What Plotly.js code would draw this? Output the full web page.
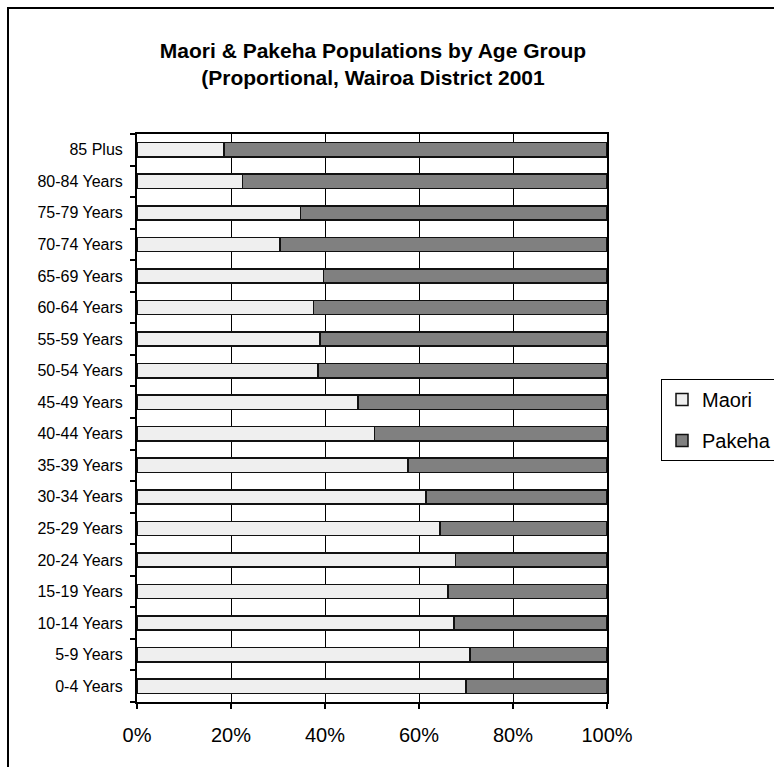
<!DOCTYPE html>
<html>
<head>
<meta charset="utf-8">
<script src="https://cdn.plot.ly/plotly-3.0.1.min.js"></script>
<style>html,body{margin:0;padding:0;background:#fff;}#chart{width:774px;height:767px;}</style>
</head>
<body>
<div id="chart"></div>
<script>
const categories = ["0-4 Years","5-9 Years","10-14 Years","15-19 Years","20-24 Years","25-29 Years","30-34 Years","35-39 Years","40-44 Years","45-49 Years","50-54 Years","55-59 Years","60-64 Years","65-69 Years","70-74 Years","75-79 Years","80-84 Years","85 Plus"];
const maori  = [70.0, 70.9, 67.4, 66.2, 67.8, 64.5, 61.5, 57.7, 50.5, 47.0, 38.5, 38.9, 37.6, 39.7, 30.4, 34.8, 22.4, 18.5];
const pakeha = [30.0, 29.1, 32.6, 33.8, 32.2, 35.5, 38.5, 42.3, 49.5, 53.0, 61.5, 61.1, 62.4, 60.3, 69.6, 65.2, 77.6, 81.5];
const xTickVals = [0, 20, 40, 60, 80, 100];
const xTickText = ["0%", "20%", "40%", "60%", "80%", "100%"];
const titleText = "<b>Maori & Pakeha Populations by Age Group<br>(Proportional, Wairoa District 2001</b>";

const FONT = "Liberation Sans, Arial, sans-serif";
const L = 137, R = 607, T = 134, B = 702, W = 774, H = 767;
const pw = R - L, ph = B - T;
const px = v => (v - L) / pw;
const py = v => (B - v) / ph;

const traces = [
  {type: "bar", orientation: "h", name: "Maori", y: categories, x: maori,
   legendgroup: "a",
   marker: {color: "#efefef", line: {color: "#111", width: 1.5}}, hoverinfo: "skip"},
  {type: "bar", orientation: "h", name: "Pakeha", y: categories, x: pakeha,
   legendgroup: "b",
   marker: {color: "#808080", line: {color: "#111", width: 1.5}}, hoverinfo: "skip"}
];

const layout = {
  width: W, height: H,
  margin: {l: L, r: W - R, t: T, b: H - B, pad: 0, autoexpand: false},
  paper_bgcolor: "#fff", plot_bgcolor: "#fff",
  barmode: "stack", bargap: 0.55,
  font: {family: FONT, color: "#000"},
  title: {text: titleText, font: {family: FONT, size: 21, color: "#000"},
          x: 373 / W, xanchor: "center", xref: "container",
          y: 1 - 58 / H, yanchor: "middle", yref: "container"},
  xaxis: {range: [0, 100], tickvals: xTickVals, ticktext: xTickText,
          showgrid: true, gridcolor: "#000", gridwidth: 1,
          showline: true, linecolor: "#000", linewidth: 2, mirror: true,
          ticks: "outside", ticklen: 5, tickwidth: 2, tickcolor: "#000",
          tickfont: {family: FONT, size: 20, color: "#000"},
          ticklabelstandoff: 9, zeroline: false, fixedrange: true, automargin: false},
  yaxis: {type: "category", categoryorder: "array", categoryarray: categories,
          showgrid: false, showline: true, linecolor: "#000", linewidth: 2, mirror: true,
          ticks: "outside", ticklen: 5, tickwidth: 2, tickcolor: "#000", tickson: "boundaries",
          tickfont: {family: FONT, size: 16, color: "#000"},
          ticklabelstandoff: 9, fixedrange: true, automargin: false},
  showlegend: true,
  legend: {x: px(661), xanchor: "left", y: py(379), yanchor: "top",
           bgcolor: "#fff", bordercolor: "#000", borderwidth: 1,
           font: {family: FONT, size: 20, color: "#000"},
           traceorder: "grouped", tracegroupgap: 12, itemwidth: 30},
  shapes: [
    {type: "rect", xref: "paper", yref: "paper",
     x0: px(8), x1: px(790), y0: py(790), y1: py(8),
     line: {color: "#000", width: 2}, fillcolor: "rgba(0,0,0,0)", layer: "below"}
  ]
};

Plotly.newPlot("chart", traces, layout, {staticPlot: true, displayModeBar: false});
</script>
</body>
</html>
